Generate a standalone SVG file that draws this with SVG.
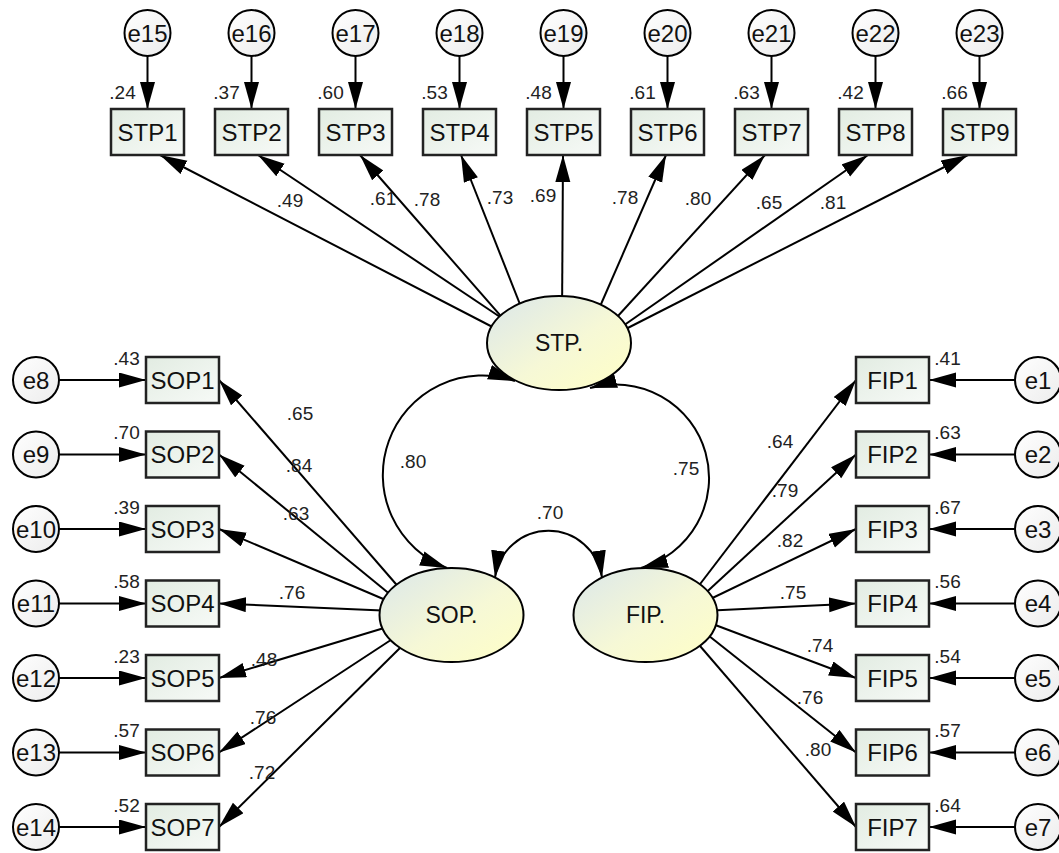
<svg xmlns="http://www.w3.org/2000/svg" width="1059" height="853" viewBox="0 0 1059 853">
<defs>
<linearGradient id="gLat" x1="0" y1="0" x2="1" y2="1"><stop offset="0" stop-color="#dbe7ea"/><stop offset="0.55" stop-color="#f6f8d6"/><stop offset="1" stop-color="#ffffc6"/></linearGradient>
<linearGradient id="gBox" x1="0" y1="0" x2="1" y2="1"><stop offset="0" stop-color="#e2ece2"/><stop offset="1" stop-color="#f7faf7"/></linearGradient>
<linearGradient id="gErr" x1="0" y1="0" x2="1" y2="1"><stop offset="0" stop-color="#ffffff"/><stop offset="1" stop-color="#ececec"/></linearGradient>
<marker id="ah" markerUnits="userSpaceOnUse" markerWidth="28" markerHeight="16" refX="27" refY="7.5" orient="auto-start-reverse"><path d="M0,0 L27,7.5 L0,15 z" fill="#000"/></marker>
</defs>
<style>
.box{fill:url(#gBox);stroke:#222;stroke-width:2.5}
.err{fill:url(#gErr);stroke:#000;stroke-width:2}
.lat{fill:url(#gLat);stroke:#000;stroke-width:2}
.t{font-family:"Liberation Sans",Arial,sans-serif;font-size:24px;text-anchor:middle;fill:#111}
.tl{font-family:"Liberation Sans",Arial,sans-serif;font-size:23px;text-anchor:middle;fill:#111}
.n{font-family:"Liberation Sans",Arial,sans-serif;font-size:19px;text-anchor:middle;fill:#222}
.c{stroke:#000;stroke-width:2;fill:none;marker-end:url(#ah)}
.cv{stroke:#000;stroke-width:2;fill:none;marker-start:url(#ah);marker-end:url(#ah)}
</style>
<rect width="1059" height="853" fill="#fff"/>
<g id="connectors">
<path class="c" d="M147.5,56 V109"/><path class="c" d="M251.5,56 V109"/><path class="c" d="M355.5,56 V109"/>
<path class="c" d="M459.5,56 V109"/><path class="c" d="M563.5,56 V109"/><path class="c" d="M667.5,56 V109"/>
<path class="c" d="M771.5,56 V109"/><path class="c" d="M875.5,56 V109"/><path class="c" d="M979.5,56 V109"/>
<path class="c" d="M59,380 H146"/><path class="c" d="M59,454.5 H146"/><path class="c" d="M59,529 H146"/>
<path class="c" d="M59,603.5 H146"/><path class="c" d="M59,678 H146"/><path class="c" d="M59,752.5 H146"/>
<path class="c" d="M59,827 H146"/>
<path class="c" d="M1015,380 H929"/><path class="c" d="M1015,454.5 H929"/><path class="c" d="M1015,529 H929"/>
<path class="c" d="M1015,603.5 H929"/><path class="c" d="M1015,678 H929"/><path class="c" d="M1015,752.5 H929"/>
<path class="c" d="M1015,827 H929"/>
<path class="c" d="M508,335 L160,155"/><path class="c" d="M515,327 L258,155"/><path class="c" d="M513,330 L360,155"/>
<path class="c" d="M527,322 L461,155"/><path class="c" d="M562,320 L563,155"/><path class="c" d="M595,318 L666,155"/>
<path class="c" d="M607,328 L765,155"/><path class="c" d="M610,335 L868,155"/><path class="c" d="M612,336 L968,155"/>
<path class="c" d="M402,591 L219,380"/><path class="c" d="M397,600 L219,454.5"/><path class="c" d="M395,604 L219,529"/>
<path class="c" d="M394,611 L219,603.5"/><path class="c" d="M394,625 L219,678"/><path class="c" d="M400,634 L219,752.5"/>
<path class="c" d="M405,643 L219,827"/>
<path class="c" d="M694,592 L856,380"/><path class="c" d="M698,600 L856,454.5"/><path class="c" d="M700,604 L856,529"/>
<path class="c" d="M702,611 L856,603.5"/><path class="c" d="M702,620 L856,678"/><path class="c" d="M699,628 L856,752.5"/>
<path class="c" d="M694,639 L856,827"/>
<path class="cv" d="M515,381 A99.5,99.5 0 0 0 447,568"/>
<path class="cv" d="M590,388 A93.5,93.5 0 0 1 641,568"/>
<path class="cv" d="M495,577.5 A54,54 0 0 1 602,577.5"/>
<text class="n" x="290" y="207">.49</text><text class="n" x="383" y="205">.61</text><text class="n" x="427" y="206">.78</text>
<text class="n" x="500" y="204">.73</text><text class="n" x="543" y="202">.69</text><text class="n" x="625" y="204">.78</text>
<text class="n" x="698" y="205">.80</text><text class="n" x="769" y="209">.65</text><text class="n" x="833" y="209">.81</text>
<text class="n" x="300" y="420">.65</text><text class="n" x="299" y="472">.84</text><text class="n" x="296" y="520">.63</text>
<text class="n" x="292" y="599">.76</text><text class="n" x="264" y="666">.48</text><text class="n" x="263" y="724">.76</text>
<text class="n" x="262" y="779">.72</text>
<text class="n" x="780" y="448">.64</text><text class="n" x="785" y="497">.79</text><text class="n" x="790" y="547">.82</text>
<text class="n" x="793" y="599">.75</text><text class="n" x="820" y="652">.74</text><text class="n" x="810" y="704">.76</text>
<text class="n" x="818" y="756">.80</text>
<text class="n" x="413" y="468">.80</text><text class="n" x="686" y="475">.75</text><text class="n" x="550" y="519">.70</text>
</g>
<g id="STP"><ellipse class="lat" cx="559" cy="343" rx="72" ry="47"/><text class="tl" x="559" y="351">STP.</text></g>
<g id="SOP"><ellipse class="lat" cx="451.5" cy="615" rx="72" ry="47"/><text class="tl" x="451.5" y="623">SOP.</text></g>
<g id="FIP"><ellipse class="lat" cx="645.5" cy="615" rx="72" ry="47"/><text class="tl" x="645.5" y="623">FIP.</text></g>
<g id="e15"><circle class="err" cx="147.5" cy="33" r="23"/><text class="t" x="147.5" y="41.5">e15</text></g>
<g id="e16"><circle class="err" cx="251.5" cy="33" r="23"/><text class="t" x="251.5" y="41.5">e16</text></g>
<g id="e17"><circle class="err" cx="355.5" cy="33" r="23"/><text class="t" x="355.5" y="41.5">e17</text></g>
<g id="e18"><circle class="err" cx="459.5" cy="33" r="23"/><text class="t" x="459.5" y="41.5">e18</text></g>
<g id="e19"><circle class="err" cx="563.5" cy="33" r="23"/><text class="t" x="563.5" y="41.5">e19</text></g>
<g id="e20"><circle class="err" cx="667.5" cy="33" r="23"/><text class="t" x="667.5" y="41.5">e20</text></g>
<g id="e21"><circle class="err" cx="771.5" cy="33" r="23"/><text class="t" x="771.5" y="41.5">e21</text></g>
<g id="e22"><circle class="err" cx="875.5" cy="33" r="23"/><text class="t" x="875.5" y="41.5">e22</text></g>
<g id="e23"><circle class="err" cx="979.5" cy="33" r="23"/><text class="t" x="979.5" y="41.5">e23</text></g>
<g id="STP1"><rect class="box" x="111" y="109" width="73" height="46"/><text class="t" x="147.5" y="140.5">STP1</text><text class="n" x="122.5" y="99">.24</text></g>
<g id="STP2"><rect class="box" x="215" y="109" width="73" height="46"/><text class="t" x="251.5" y="140.5">STP2</text><text class="n" x="226.5" y="99">.37</text></g>
<g id="STP3"><rect class="box" x="319" y="109" width="73" height="46"/><text class="t" x="355.5" y="140.5">STP3</text><text class="n" x="330.5" y="99">.60</text></g>
<g id="STP4"><rect class="box" x="423" y="109" width="73" height="46"/><text class="t" x="459.5" y="140.5">STP4</text><text class="n" x="434.5" y="99">.53</text></g>
<g id="STP5"><rect class="box" x="527" y="109" width="73" height="46"/><text class="t" x="563.5" y="140.5">STP5</text><text class="n" x="538.5" y="99">.48</text></g>
<g id="STP6"><rect class="box" x="631" y="109" width="73" height="46"/><text class="t" x="667.5" y="140.5">STP6</text><text class="n" x="642.5" y="99">.61</text></g>
<g id="STP7"><rect class="box" x="735" y="109" width="73" height="46"/><text class="t" x="771.5" y="140.5">STP7</text><text class="n" x="746.5" y="99">.63</text></g>
<g id="STP8"><rect class="box" x="839" y="109" width="73" height="46"/><text class="t" x="875.5" y="140.5">STP8</text><text class="n" x="850.5" y="99">.42</text></g>
<g id="STP9"><rect class="box" x="943" y="109" width="73" height="46"/><text class="t" x="979.5" y="140.5">STP9</text><text class="n" x="954.5" y="99">.66</text></g>
<g id="e8"><circle class="err" cx="36" cy="380" r="23"/><text class="t" x="36" y="388.5">e8</text></g>
<g id="e9"><circle class="err" cx="36" cy="454.5" r="23"/><text class="t" x="36" y="463">e9</text></g>
<g id="e10"><circle class="err" cx="36" cy="529" r="23"/><text class="t" x="36" y="537.5">e10</text></g>
<g id="e11"><circle class="err" cx="36" cy="603.5" r="23"/><text class="t" x="36" y="612">e11</text></g>
<g id="e12"><circle class="err" cx="36" cy="678" r="23"/><text class="t" x="36" y="686.5">e12</text></g>
<g id="e13"><circle class="err" cx="36" cy="752.5" r="23"/><text class="t" x="36" y="761">e13</text></g>
<g id="e14"><circle class="err" cx="36" cy="827" r="23"/><text class="t" x="36" y="835.5">e14</text></g>
<g id="SOP1"><rect class="box" x="146" y="357" width="73" height="46"/><text class="t" x="182.5" y="388.5">SOP1</text><text class="n" x="126.5" y="364.5">.43</text></g>
<g id="SOP2"><rect class="box" x="146" y="431.5" width="73" height="46"/><text class="t" x="182.5" y="463">SOP2</text><text class="n" x="126.5" y="439">.70</text></g>
<g id="SOP3"><rect class="box" x="146" y="506" width="73" height="46"/><text class="t" x="182.5" y="537.5">SOP3</text><text class="n" x="126.5" y="513.5">.39</text></g>
<g id="SOP4"><rect class="box" x="146" y="580.5" width="73" height="46"/><text class="t" x="182.5" y="612">SOP4</text><text class="n" x="126.5" y="588">.58</text></g>
<g id="SOP5"><rect class="box" x="146" y="655" width="73" height="46"/><text class="t" x="182.5" y="686.5">SOP5</text><text class="n" x="126.5" y="662.5">.23</text></g>
<g id="SOP6"><rect class="box" x="146" y="729.5" width="73" height="46"/><text class="t" x="182.5" y="761">SOP6</text><text class="n" x="126.5" y="737">.57</text></g>
<g id="SOP7"><rect class="box" x="146" y="804" width="73" height="46"/><text class="t" x="182.5" y="835.5">SOP7</text><text class="n" x="126.5" y="811.5">.52</text></g>
<g id="e1"><circle class="err" cx="1038" cy="380" r="23"/><text class="t" x="1038" y="388.5">e1</text></g>
<g id="e2"><circle class="err" cx="1038" cy="454.5" r="23"/><text class="t" x="1038" y="463">e2</text></g>
<g id="e3"><circle class="err" cx="1038" cy="529" r="23"/><text class="t" x="1038" y="537.5">e3</text></g>
<g id="e4"><circle class="err" cx="1038" cy="603.5" r="23"/><text class="t" x="1038" y="612">e4</text></g>
<g id="e5"><circle class="err" cx="1038" cy="678" r="23"/><text class="t" x="1038" y="686.5">e5</text></g>
<g id="e6"><circle class="err" cx="1038" cy="752.5" r="23"/><text class="t" x="1038" y="761">e6</text></g>
<g id="e7"><circle class="err" cx="1038" cy="827" r="23"/><text class="t" x="1038" y="835.5">e7</text></g>
<g id="FIP1"><rect class="box" x="856" y="357" width="73" height="46"/><text class="t" x="892.5" y="388.5">FIP1</text><text class="n" x="947.5" y="364.5">.41</text></g>
<g id="FIP2"><rect class="box" x="856" y="431.5" width="73" height="46"/><text class="t" x="892.5" y="463">FIP2</text><text class="n" x="947.5" y="439">.63</text></g>
<g id="FIP3"><rect class="box" x="856" y="506" width="73" height="46"/><text class="t" x="892.5" y="537.5">FIP3</text><text class="n" x="947.5" y="513.5">.67</text></g>
<g id="FIP4"><rect class="box" x="856" y="580.5" width="73" height="46"/><text class="t" x="892.5" y="612">FIP4</text><text class="n" x="947.5" y="588">.56</text></g>
<g id="FIP5"><rect class="box" x="856" y="655" width="73" height="46"/><text class="t" x="892.5" y="686.5">FIP5</text><text class="n" x="947.5" y="662.5">.54</text></g>
<g id="FIP6"><rect class="box" x="856" y="729.5" width="73" height="46"/><text class="t" x="892.5" y="761">FIP6</text><text class="n" x="947.5" y="737">.57</text></g>
<g id="FIP7"><rect class="box" x="856" y="804" width="73" height="46"/><text class="t" x="892.5" y="835.5">FIP7</text><text class="n" x="947.5" y="811.5">.64</text></g>
</svg>
